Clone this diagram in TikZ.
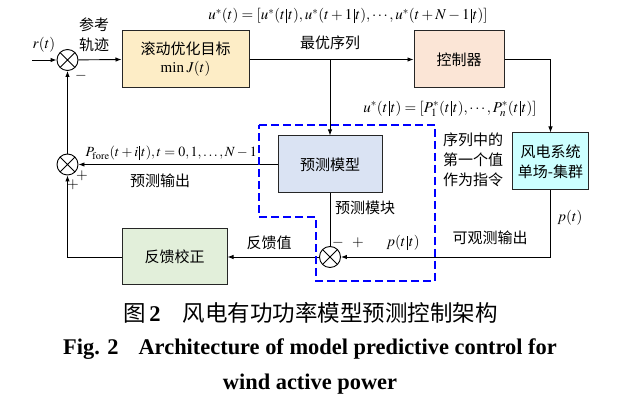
\documentclass[tikz,border=0pt]{standalone}
\usepackage{mathptmx}
\usepackage{fontspec}
\setmainfont{Liberation Serif}
\newfontfamily\cjk{Noto Sans CJK SC}
\usetikzlibrary{arrows.meta}
\definecolor{cOpt}{HTML}{FDEDC6}
\definecolor{cCtrl}{HTML}{FBE5D6}
\definecolor{cPred}{HTML}{DAE3F3}
\definecolor{cWind}{HTML}{CCFFFF}
\definecolor{cFb}{HTML}{E2EFDA}
\newcommand{\tbar}{\mskip1.5mu\rule[-3.5pt]{0.75pt}{14.5pt}\mskip1.5mu}
\begin{document}
\begin{tikzpicture}[x=1pt,y=-1pt,
  font=\fontsize{15}{17}\selectfont,
  box/.style={draw=black!85, line width=1pt, minimum height=57pt, align=center, inner sep=0pt, font=\cjk\fontsize{15}{20}\selectfont},
  sumc/.style={circle, draw, line width=0.9pt, minimum size=21pt, inner sep=0pt,
    path picture={\draw[line width=0.8pt] (path picture bounding box.south east) -- (path picture bounding box.north west)
      (path picture bounding box.south west) -- (path picture bounding box.north east);}},
  conn/.style={line width=0.9pt, -{Latex[length=6pt,width=4.5pt]}},
  line/.style={line width=0.9pt},
  lab/.style={inner sep=0pt, font=\cjk\fontsize{15}{20}\selectfont, align=center},
  mlab/.style={inner sep=0pt},
  captxt/.style={inner sep=0pt}
]
\useasboundingbox (0,0) rectangle (622,411);

% blocks
\node[box, fill=cOpt, minimum width=127pt] (opt) at (185.5,59.5) {滚动优化目标\\[-2pt]{\rmfamily\fontsize{15}{17}\selectfont min\,$J(t)$}};
\node[box, fill=cCtrl, minimum width=90pt] (ctrl) at (459,59.5) {控制器};
\node[box, fill=cPred, minimum width=104pt] (pred) at (330,164.5) {预测模型};
\node[box, fill=cWind, minimum width=76pt] (wind) at (550.5,161.5) {风电系统\\单场-集群};
\node[box, fill=cFb, minimum width=105pt, minimum height=56pt] (fb) at (174.5,257) {反馈校正};

% summing junctions
\node[sumc] (s1) at (67.5,60) {};
\node[sumc] (s2) at (67.5,164.5) {};
\node[sumc] (s3) at (330,257) {};

\coordinate (in) at (32,60);
\coordinate (br) at (330,59.5);

% connectors
\draw[conn] (in) -- (s1);
\draw[conn] (s1) -- (opt.west);
\draw[conn] (opt.east) -- (ctrl.west);
\draw[conn] (br) -- (pred.north);
\draw[conn] (ctrl.east) -| (wind.north);
\draw[conn] (wind.south) |- (s3.east);
\draw[line] (pred.south) -- (s3.north);
\draw[conn] (s3.west) -- (fb.east);
\draw[conn] (fb.west) -| (s2.south);
\draw[conn] (pred.west) -- (s2.east);
\draw[conn] (s2.north) -- (s1.south);

% dashed prediction module outline
\draw[blue, line width=2pt, dash pattern=on 8pt off 4pt]
  (259,125) -- (435,125) -- (435,281) -- (316,281) -- (316,217) -- (259,217) -- cycle;

% labels
\node[mlab] (lr) at (44,45) {$r(t)$};
\node[lab] (lref) at (94,35) {参考\\轨迹};
\node[mlab] (lm1) at (81,76) {$-$};
\node[mlab] (leq1) at (348,16) {$u^{*}(t)=[u^{*}(t\tbar t),u^{*}(t+1\tbar t),\cdots,u^{*}(t+N-1\tbar t)]$};
\node[lab] (lopt) at (330,43) {最优序列};
\node[mlab] (leq2) at (450,109) {$u^{*}(t\tbar t)=[P_1^{*}(t\tbar t),\cdots,P_n^{*}(t\tbar t)]$};
\node[lab] (lfirst) at (473,160) {序列中的\\第一个值\\作为指令};
\node[mlab, anchor=east, font=\fontsize{14}{16}\selectfont] (lpf) at (257,153) {$P_{\mathrm{fore}}(t+i\tbar t),t=0,1,\ldots,N-1$};
\node[lab] (lpo) at (160,181) {预测输出};
\node[mlab] (lp1) at (82,176) {$+$};
\node[mlab] (lp2) at (73,185) {$+$};
\node[lab] (lpm) at (365,208) {预测模块};
\node[mlab] (lm3) at (338,243) {$-$};
\node[mlab] (lp3) at (358,243) {$+$};
\node[mlab] (lptt) at (403,243) {$p(t\tbar t)$};
\node[mlab] (lpt) at (570,218) {$p(t)$};
\node[lab] (lobs) at (490,238) {可观测输出};
\node[lab] (lfbv) at (269,243) {反馈值};

% caption
\node[captxt, anchor=west, font=\fontsize{22.5}{24}\selectfont] (cap1) at (123,313) {{\cjk 图}\,\textbf{2}\hspace{22pt}{\cjk 风电有功功率模型预测控制架构}};
\node[captxt, anchor=west, font=\bfseries\fontsize{22.4}{24}\selectfont] (cap2) at (63,349) {Fig. 2\hspace{20pt}Architecture of model predictive control for};
\node[captxt, font=\bfseries\fontsize{22.4}{24}\selectfont] (cap3) at (310,384) {wind active power};
\end{tikzpicture}
\end{document}
